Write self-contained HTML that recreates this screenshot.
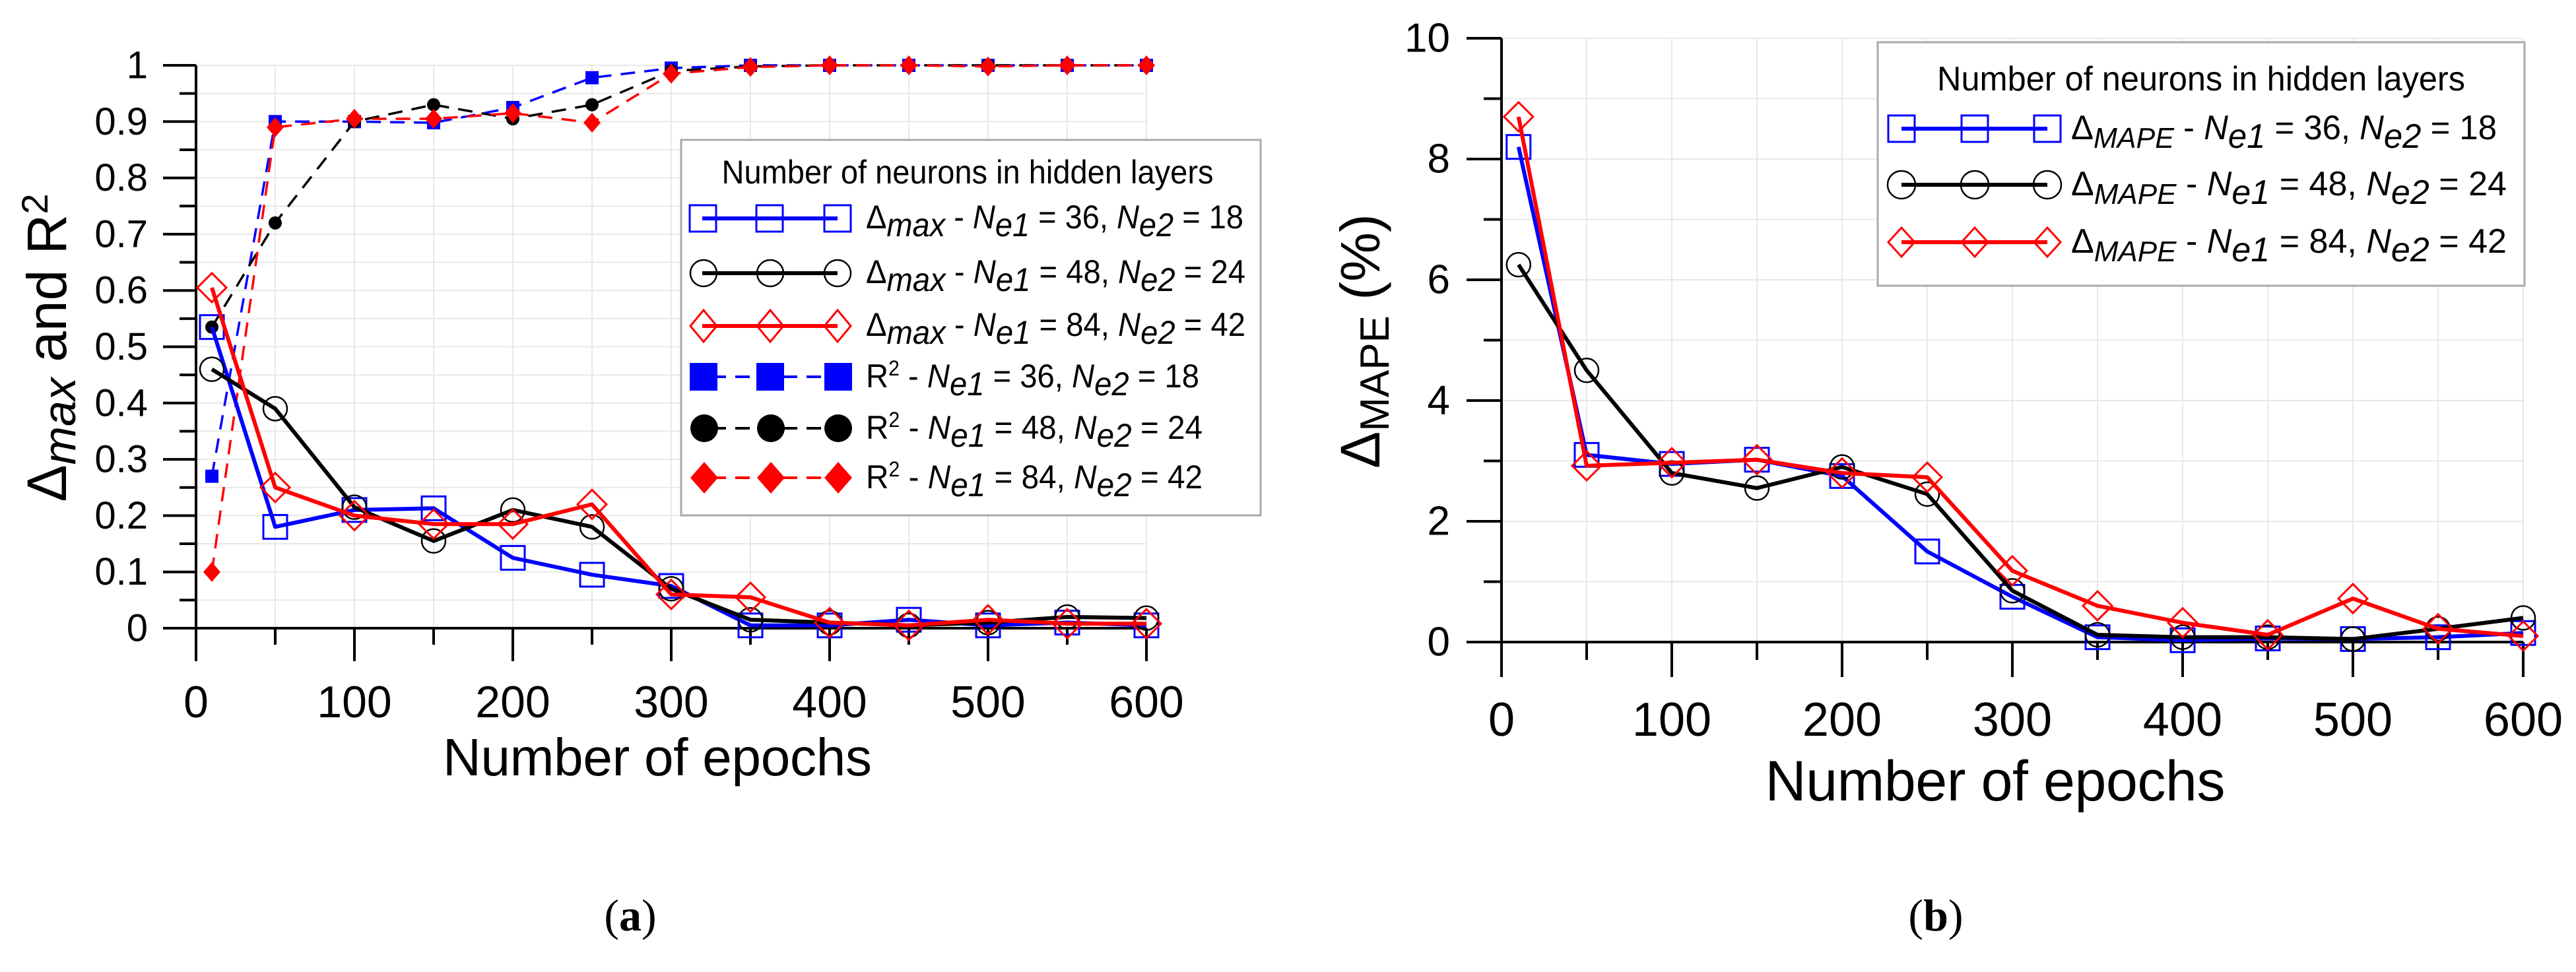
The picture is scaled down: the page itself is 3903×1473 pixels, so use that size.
<!DOCTYPE html>
<html><head><meta charset="utf-8">
<style>
html,body{margin:0;padding:0;background:#fff;}
svg{display:block;font-family:"Liberation Sans",sans-serif;}
</style></head>
<body>
<svg id="fig" xmlns="http://www.w3.org/2000/svg" width="3903" height="1473" viewBox="0 0 3903 1473"></svg>
<script>
// ---------- data ----------
const epochs = [10,50,100,150,200,250,300,350,400,450,500,550,600];
const dmaxBlue  = [0.535,0.18,0.21,0.213,0.125,0.095,0.075,0.005,0.005,0.015,0.005,0.01,0.005];
const dmaxBlack = [0.46,0.39,0.215,0.155,0.21,0.18,0.07,0.015,0.01,0.005,0.01,0.02,0.018];
const dmaxRed   = [0.605,0.25,0.2,0.185,0.185,0.22,0.06,0.055,0.01,0.005,0.015,0.008,0.008];
const r2Blue    = [0.27,0.90,0.90,0.898,0.925,0.978,0.995,1,1,1,1,1,1];
const r2Black   = [0.535,0.72,0.9,0.93,0.905,0.93,0.99,0.998,1,1,1,1,1];
const r2Red     = [0.10,0.89,0.905,0.905,0.915,0.898,0.985,0.997,1,1,0.998,1,1];
const mapeBlue  = [8.2,3.1,2.95,3.02,2.75,1.5,0.75,0.08,0.03,0.06,0.05,0.08,0.15];
const mapeBlack = [6.25,4.5,2.8,2.55,2.9,2.45,0.85,0.12,0.08,0.08,0.05,0.22,0.4];
const mapeRed   = [8.7,2.92,2.97,3.02,2.8,2.73,1.18,0.6,0.32,0.12,0.72,0.22,0.1];
const xTicks = [0,100,200,300,400,500,600];
const yTicksA = [0,0.1,0.2,0.3,0.4,0.5,0.6,0.7,0.8,0.9,1];
const yTickLabelsA = ["0","0.1","0.2","0.3","0.4","0.5","0.6","0.7","0.8","0.9","1"];
const yTicksB = [0,2,4,6,8,10];

const NS="http://www.w3.org/2000/svg";
const svg=document.getElementById('fig');
function mk(tag,attrs,parent){const e=document.createElementNS(NS,tag);for(const k in attrs)e.setAttribute(k,attrs[k]);(parent||svg).appendChild(e);return e;}

function marker(g,type,x,y,color){
  let m;
  if(type==='sq'){m=mk('rect',{x:x-18,y:y-18,width:36,height:36,fill:'none',stroke:color,'stroke-width':3},g);}
  else if(type==='ci'){m=mk('circle',{cx:x,cy:y,r:18,fill:'none',stroke:color,'stroke-width':2.5},g);}
  else if(type==='di'){m=mk('polygon',{points:`${x},${y-22} ${x+22},${y} ${x},${y+22} ${x-22},${y}`,fill:'none',stroke:color,'stroke-width':3},g);}
  else if(type==='fsq'){m=mk('rect',{x:x-10,y:y-10,width:20,height:20,fill:color},g);}
  else if(type==='fci'){m=mk('circle',{cx:x,cy:y,r:10,fill:color},g);}
  else if(type==='fdi'){m=mk('polygon',{points:`${x},${y-15} ${x+13},${y} ${x},${y+15} ${x-13},${y}`,fill:color},g);}
  
  
  return m;
}

function buildChart(cfg){
  const g=mk('g',{});
  
  
  const X=v=>cfg.x0+(v/600)*(cfg.x1-cfg.x0);
  const Y=v=>cfg.y0-(v-cfg.ymin)/(cfg.ymax-cfg.ymin)*(cfg.y0-cfg.y1);
  for(let v=50;v<=600;v+=50){const l=mk('line',{x1:X(v),x2:X(v),y1:cfg.y1,y2:cfg.y0,stroke:'#e8e8e8','stroke-width':2},g);
    }
  for(let v=cfg.ymin+cfg.minor;v<=cfg.ymax+1e-9;v+=cfg.minor){const l=mk('line',{x1:cfg.x0,x2:cfg.x1,y1:Y(v),y2:Y(v),stroke:'#e8e8e8','stroke-width':2},g);
    }
  const ya=mk('line',{x1:cfg.x0,x2:cfg.x0,y1:cfg.y1,y2:cfg.y0+cfg.majLen,stroke:'#000','stroke-width':4},g);
  
  const xa=mk('line',{x1:cfg.x0-cfg.majLen,x2:cfg.x1,y1:cfg.y0,y2:cfg.y0,stroke:'#000','stroke-width':4},g);
  
  for(let v=50;v<=600;v+=50){const maj=v%100===0;
    const t=mk('line',{x1:X(v),x2:X(v),y1:cfg.y0,y2:cfg.y0+(maj?cfg.majLen:cfg.minLen),stroke:'#000','stroke-width':4},g);
    }
  for(let v=cfg.ymin+cfg.minor;v<=cfg.ymax+1e-9;v+=cfg.minor){const maj=Math.abs(v/cfg.major-Math.round(v/cfg.major))<1e-6;
    const t=mk('line',{x1:cfg.x0-(maj?cfg.majLen:cfg.minLen),x2:cfg.x0,y1:Y(v),y2:Y(v),stroke:'#000','stroke-width':4},g);
    }
  xTicks.forEach(v=>{const t=mk('text',{x:X(v),y:cfg.xLabY,'font-size':cfg.xLabFs,'text-anchor':'middle','dominant-baseline':'central'},g);
    t.textContent=String(v);});
  cfg.yTicks.forEach((v,i)=>{const t=mk('text',{x:cfg.yLabX,y:Y(v),'font-size':cfg.yLabFs,'text-anchor':'end','dominant-baseline':'central'},g);
    t.textContent=cfg.yLabels[i];});
  cfg.series.forEach(s=>{
    const sg=mk('g',{},g);
    
    
    const pts=epochs.map((e,i)=>X(e)+','+Y(s.vals[i])).join(' ');
    const pl=mk('polyline',{points:pts,fill:'none',stroke:s.color,'stroke-width':s.dash?3.5:6,'stroke-dasharray':s.dash?'22 14':'none','stroke-linejoin':'round'},sg);
    
    epochs.forEach((e,i)=>marker(sg,s.mk,X(e),Y(s.vals[i]),s.color));
  });
  return g;
}

buildChart({name:'chart-a',x0:297,x1:1737,y0:952,y1:99,ymin:0,ymax:1,minor:0.05,major:0.1,majLen:50,minLen:25,
  xLabY:1064,xLabFs:68,yLabX:224,yLabFs:58,yTicks:yTicksA,yLabels:yTickLabelsA,
  series:[
    {name:'r2-series-36-18',vals:r2Blue,color:'#0000ff',mk:'fsq',dash:true},
    {name:'r2-series-48-24',vals:r2Black,color:'#000',mk:'fci',dash:true},
    {name:'r2-series-84-42',vals:r2Red,color:'#ff0000',mk:'fdi',dash:true},
    {name:'dmax-series-36-18',vals:dmaxBlue,color:'#0000ff',mk:'sq'},
    {name:'dmax-series-48-24',vals:dmaxBlack,color:'#000',mk:'ci'},
    {name:'dmax-series-84-42',vals:dmaxRed,color:'#ff0000',mk:'di'}]});
buildChart({name:'chart-b',x0:2275,x1:3823,y0:973,y1:58,ymin:0,ymax:10,minor:1,major:2,majLen:53,minLen:27,
  xLabY:1091,xLabFs:72,yLabX:2197,yLabFs:62,yTicks:yTicksB,yLabels:yTicksB.map(String),
  series:[
    {name:'mape-series-36-18',vals:mapeBlue,color:'#0000ff',mk:'sq'},
    {name:'mape-series-48-24',vals:mapeBlack,color:'#000',mk:'ci'},
    {name:'mape-series-84-42',vals:mapeRed,color:'#ff0000',mk:'di'}]});
</script>
<svg style="position:absolute;left:0;top:0" width="3903" height="1473" viewBox="0 0 3903 1473" xmlns="http://www.w3.org/2000/svg" font-family="Liberation Sans, sans-serif">
  <text transform="translate(100,527) rotate(-90)" font-size="84" text-anchor="middle">Δ<tspan font-style="italic" font-size="70" dy="14">max</tspan><tspan dy="-14"> and R</tspan><tspan font-size="56" dy="-28">2</tspan></text>
  <text x="996" y="1175" font-size="80" text-anchor="middle" textLength="650">Number of epochs</text>
  <text transform="translate(2090,517) rotate(-90)" font-size="84" text-anchor="middle">Δ<tspan font-size="62" dy="14">MAPE</tspan><tspan dy="-14"> (%)</tspan></text>
  <text x="3023" y="1213" font-size="86" text-anchor="middle" textLength="697">Number of epochs</text>
  <text x="955" y="1410" font-size="68" text-anchor="middle" font-family="Liberation Serif, serif">(<tspan font-weight="bold">a</tspan>)</text>
  <text x="2933" y="1410" font-size="68" text-anchor="middle" font-family="Liberation Serif, serif">(<tspan font-weight="bold">b</tspan>)</text>

  <g>
    <rect x="1032" y="212" width="878" height="569" fill="#fff" stroke="#aaa" stroke-width="3"/>
    <text x="1466" y="278" font-size="50" text-anchor="middle" textLength="745" lengthAdjust="spacingAndGlyphs">Number of neurons in hidden layers</text>
    <g>
      <line x1="1064" x2="1269" y1="331" y2="331" stroke="#0000ff" stroke-width="6"/>
      <rect x="1045" y="311" width="40" height="40" fill="none" stroke="#0000ff" stroke-width="3"/><rect x="1146" y="311" width="40" height="40" fill="none" stroke="#0000ff" stroke-width="3"/><rect x="1249" y="311" width="40" height="40" fill="none" stroke="#0000ff" stroke-width="3"/>
      <text x="1312" y="346" font-size="50" textLength="572" lengthAdjust="spacingAndGlyphs">Δ<tspan font-style="italic" dy="12">max</tspan><tspan dy="-12">  - </tspan><tspan font-style="italic">N</tspan><tspan font-style="italic" dy="12">e1</tspan><tspan dy="-12"> = 36, </tspan><tspan font-style="italic">N</tspan><tspan font-style="italic" dy="12">e2</tspan><tspan dy="-12"> = 18</tspan></text>
    </g>
    <g>
      <line x1="1064" x2="1269" y1="414" y2="414" stroke="#000" stroke-width="6"/>
      <circle cx="1066" cy="414" r="20" fill="none" stroke="#000" stroke-width="2.5"/><circle cx="1167" cy="414" r="20" fill="none" stroke="#000" stroke-width="2.5"/><circle cx="1269" cy="414" r="20" fill="none" stroke="#000" stroke-width="2.5"/>
      <text x="1312" y="429" font-size="50" textLength="575" lengthAdjust="spacingAndGlyphs">Δ<tspan font-style="italic" dy="12">max</tspan><tspan dy="-12">  - </tspan><tspan font-style="italic">N</tspan><tspan font-style="italic" dy="12">e1</tspan><tspan dy="-12"> = 48, </tspan><tspan font-style="italic">N</tspan><tspan font-style="italic" dy="12">e2</tspan><tspan dy="-12"> = 24</tspan></text>
    </g>
    <g>
      <line x1="1064" x2="1269" y1="494" y2="494" stroke="#ff0000" stroke-width="6"/>
      <polygon points="1066,470 1086,494 1066,518 1046,494" fill="none" stroke="#ff0000" stroke-width="3"/><polygon points="1167,470 1187,494 1167,518 1147,494" fill="none" stroke="#ff0000" stroke-width="3"/><polygon points="1269,470 1289,494 1269,518 1249,494" fill="none" stroke="#ff0000" stroke-width="3"/>
      <text x="1312" y="509" font-size="50" textLength="575" lengthAdjust="spacingAndGlyphs">Δ<tspan font-style="italic" dy="12">max</tspan><tspan dy="-12">  - </tspan><tspan font-style="italic">N</tspan><tspan font-style="italic" dy="12">e1</tspan><tspan dy="-12"> = 84, </tspan><tspan font-style="italic">N</tspan><tspan font-style="italic" dy="12">e2</tspan><tspan dy="-12"> = 42</tspan></text>
    </g>
    <g>
      <line x1="1064" x2="1269" y1="571" y2="571" stroke="#0000ff" stroke-width="4" stroke-dasharray="22 14" stroke-dashoffset="-14"/>
      <rect x="1045" y="550" width="42" height="42" fill="#0000ff"/><rect x="1146" y="550" width="42" height="42" fill="#0000ff"/><rect x="1249" y="550" width="42" height="42" fill="#0000ff"/>
      <text x="1312" y="587" font-size="50" textLength="505" lengthAdjust="spacingAndGlyphs">R<tspan font-size="32" dy="-18">2</tspan><tspan dy="18"> - </tspan><tspan font-style="italic">N</tspan><tspan font-style="italic" dy="12">e1</tspan><tspan dy="-12"> = 36, </tspan><tspan font-style="italic">N</tspan><tspan font-style="italic" dy="12">e2</tspan><tspan dy="-12"> = 18</tspan></text>
    </g>
    <g>
      <line x1="1064" x2="1269" y1="649" y2="649" stroke="#000" stroke-width="4" stroke-dasharray="22 14" stroke-dashoffset="-14"/>
      <circle cx="1067" cy="649" r="21" fill="#000"/><circle cx="1168" cy="649" r="21" fill="#000"/><circle cx="1270" cy="649" r="21" fill="#000"/>
      <text x="1312" y="665" font-size="50" textLength="510" lengthAdjust="spacingAndGlyphs">R<tspan font-size="32" dy="-18">2</tspan><tspan dy="18"> - </tspan><tspan font-style="italic">N</tspan><tspan font-style="italic" dy="12">e1</tspan><tspan dy="-12"> = 48, </tspan><tspan font-style="italic">N</tspan><tspan font-style="italic" dy="12">e2</tspan><tspan dy="-12"> = 24</tspan></text>
    </g>
    <g>
      <line x1="1064" x2="1269" y1="724" y2="724" stroke="#ff0000" stroke-width="4" stroke-dasharray="22 14" stroke-dashoffset="-14"/>
      <polygon points="1067,700 1088,724 1067,748 1046,724" fill="#ff0000"/><polygon points="1168,700 1189,724 1168,748 1147,724" fill="#ff0000"/><polygon points="1270,700 1291,724 1270,748 1249,724" fill="#ff0000"/>
      <text x="1312" y="740" font-size="50" textLength="510" lengthAdjust="spacingAndGlyphs">R<tspan font-size="32" dy="-18">2</tspan><tspan dy="18"> - </tspan><tspan font-style="italic">N</tspan><tspan font-style="italic" dy="12">e1</tspan><tspan dy="-12"> = 84, </tspan><tspan font-style="italic">N</tspan><tspan font-style="italic" dy="12">e2</tspan><tspan dy="-12"> = 42</tspan></text>
    </g>
  </g>

  <g>
    <rect x="2845" y="64" width="980" height="369" fill="#fff" stroke="#aaa" stroke-width="3"/>
    <text x="3335" y="137" font-size="52" text-anchor="middle" textLength="800" lengthAdjust="spacingAndGlyphs">Number of neurons in hidden layers</text>
    <g>
      <line x1="2881" x2="3102" y1="195" y2="195" stroke="#0000ff" stroke-width="6"/>
      <rect x="2861" y="175" width="40" height="40" fill="none" stroke="#0000ff" stroke-width="3"/><rect x="2972" y="175" width="40" height="40" fill="none" stroke="#0000ff" stroke-width="3"/><rect x="3082" y="175" width="40" height="40" fill="none" stroke="#0000ff" stroke-width="3"/>
      <text x="3138" y="211" font-size="52" textLength="645" lengthAdjust="spacingAndGlyphs">Δ<tspan font-style="italic" font-size="44" dy="13">MAPE</tspan><tspan dy="-13">  - </tspan><tspan font-style="italic">N</tspan><tspan font-style="italic" dy="13">e1</tspan><tspan dy="-13"> = 36, </tspan><tspan font-style="italic">N</tspan><tspan font-style="italic" dy="13">e2</tspan><tspan dy="-13"> = 18</tspan></text>
    </g>
    <g>
      <line x1="2881" x2="3102" y1="280" y2="280" stroke="#000" stroke-width="6"/>
      <circle cx="2881" cy="280" r="21" fill="none" stroke="#000" stroke-width="2.5"/><circle cx="2992" cy="280" r="21" fill="none" stroke="#000" stroke-width="2.5"/><circle cx="3102" cy="280" r="21" fill="none" stroke="#000" stroke-width="2.5"/>
      <text x="3138" y="296" font-size="52" textLength="660" lengthAdjust="spacingAndGlyphs">Δ<tspan font-style="italic" font-size="44" dy="13">MAPE</tspan><tspan dy="-13">  -  </tspan><tspan font-style="italic">N</tspan><tspan font-style="italic" dy="13">e1</tspan><tspan dy="-13"> = 48, </tspan><tspan font-style="italic">N</tspan><tspan font-style="italic" dy="13">e2</tspan><tspan dy="-13"> = 24</tspan></text>
    </g>
    <g>
      <line x1="2881" x2="3102" y1="367" y2="367" stroke="#ff0000" stroke-width="6"/>
      <polygon points="2881,345 2901,367 2881,389 2861,367" fill="none" stroke="#ff0000" stroke-width="3"/><polygon points="2992,345 3012,367 2992,389 2972,367" fill="none" stroke="#ff0000" stroke-width="3"/><polygon points="3102,345 3122,367 3102,389 3082,367" fill="none" stroke="#ff0000" stroke-width="3"/>
      <text x="3138" y="383" font-size="52" textLength="660" lengthAdjust="spacingAndGlyphs">Δ<tspan font-style="italic" font-size="44" dy="13">MAPE</tspan><tspan dy="-13">  -  </tspan><tspan font-style="italic">N</tspan><tspan font-style="italic" dy="13">e1</tspan><tspan dy="-13"> = 84, </tspan><tspan font-style="italic">N</tspan><tspan font-style="italic" dy="13">e2</tspan><tspan dy="-13"> = 42</tspan></text>
    </g>
  </g>
</svg>
</body></html>
